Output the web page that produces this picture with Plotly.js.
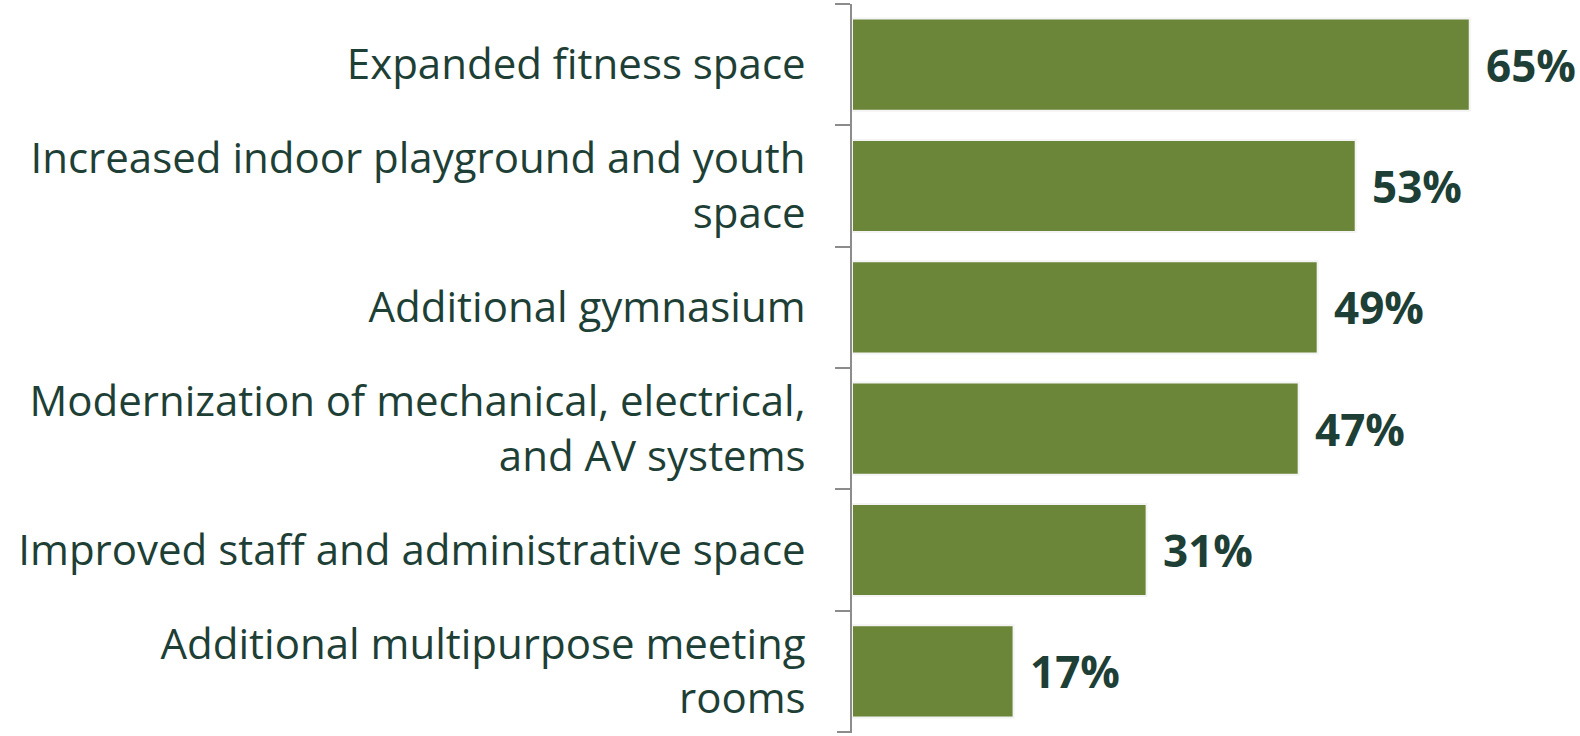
<!DOCTYPE html>
<html>
<head>
<meta charset="utf-8">
<script src="https://cdn.plot.ly/plotly-3.0.1.min.js"></script>
<style>
  html, body { margin: 0; padding: 0; background: #fff; }
  #chart { width: 1580px; height: 736px; }
</style>
</head>
<body>
<div id="chart"></div>
<script>
var categories = [
    'Expanded fitness space',
    'Increased indoor playground and youth<br>space',
    'Additional gymnasium',
    'Modernization of mechanical, electrical,<br>and AV systems',
    'Improved staff and administrative space',
    'Additional multipurpose meeting<br>rooms'
];
var values = [65, 53, 49, 47, 31, 17];
var valueLabels = ['65%', '53%', '49%', '47%', '31%', '17%'];

var textColor = '#1e3f36';
var barColor = '#6b8639';
var axisColor = '#8c8c8c';

var trace = {
    type: 'bar',
    orientation: 'h',
    x: values,
    y: categories,
    marker: {color: barColor, line: {color: '#f4f4f4', width: 2}},
    hoverinfo: 'skip'
};

var notes = values.map(function(v, i) {
    return {
        x: v, y: categories[i], text: valueLabels[i],
        xref: 'x', yref: 'y', xanchor: 'left', yanchor: 'middle',
        xshift: 14, showarrow: false,
        font: {family: 'Open Sans', size: 44, color: textColor, weight: 'bold'}
    };
});

var plotW = 1580 - 852;

var layout = {
    width: 1580, height: 736,
    margin: {l: 852, r: 0, t: 4, b: 4},
    paper_bgcolor: '#fff', plot_bgcolor: '#fff',
    showlegend: false,
    bargap: 0.24,
    xaxis: {range: [0, 76.6], visible: false, fixedrange: true},
    yaxis: {
        type: 'category', autorange: 'reversed',
        showline: true, linecolor: axisColor, linewidth: 2,
        ticks: 'outside', tickson: 'boundaries', ticklen: 15, tickwidth: 2, tickcolor: axisColor,
        ticklabelstandoff: 36,
        showgrid: false, zeroline: false,
        tickfont: {family: 'Open Sans', size: 42, color: textColor}
    },
    // closing tick at the bottom end of the category axis
    shapes: [{
        type: 'line', xref: 'paper', yref: 'y domain',
        x0: -15 / plotW, x1: 0, y0: 0, y1: 0,
        line: {color: axisColor, width: 2}
    }],
    annotations: notes
};

Plotly.newPlot('chart', [trace], layout, {staticPlot: true});
</script>
</body>
</html>
